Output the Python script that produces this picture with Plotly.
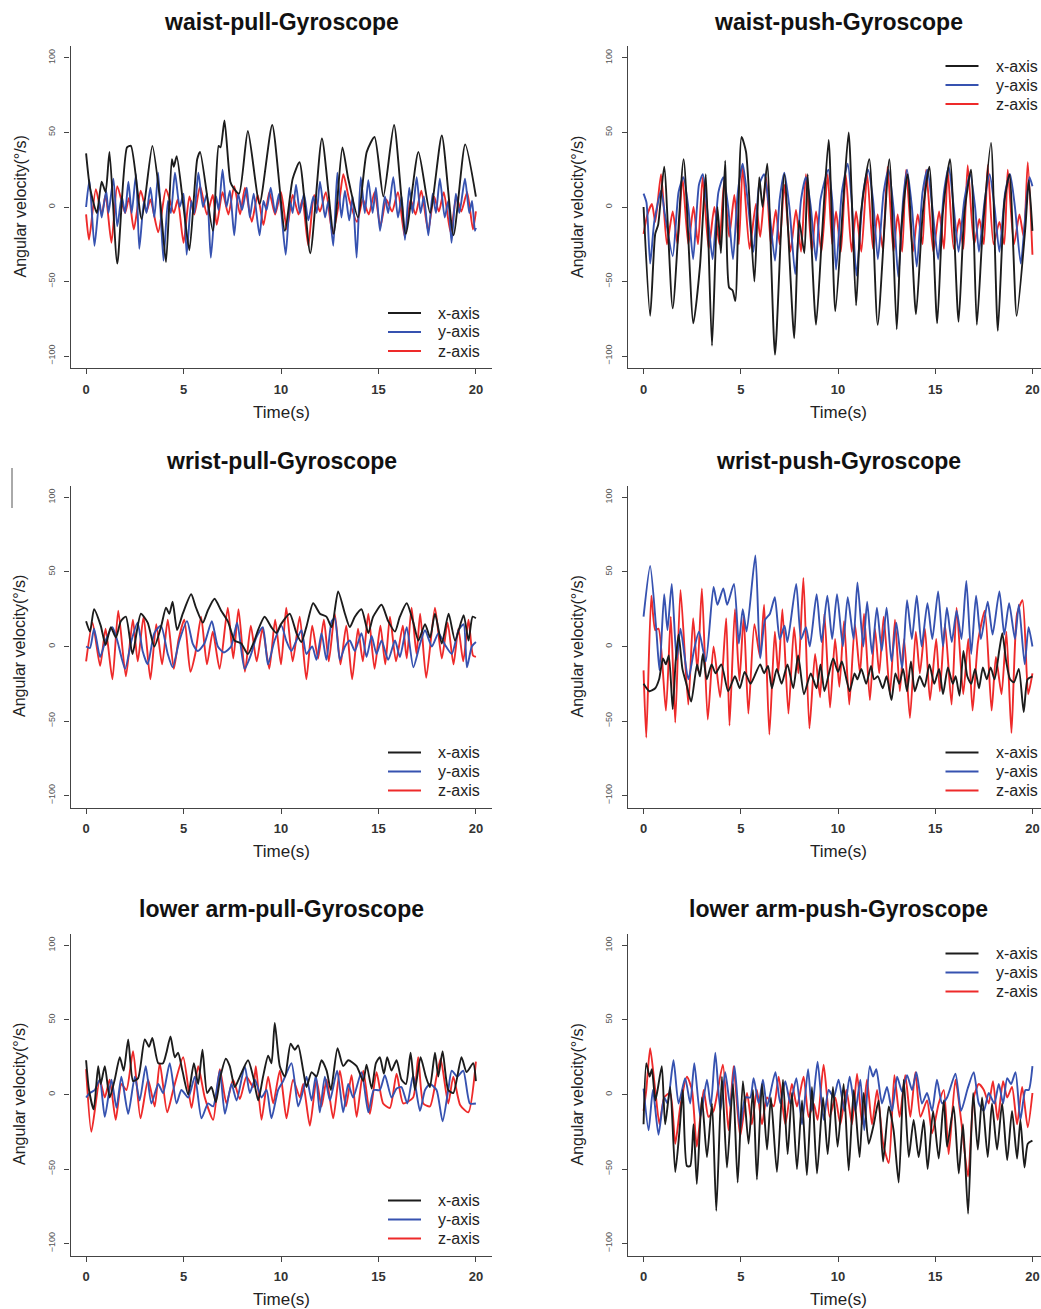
import plotly.graph_objects as go

W, H = 1041, 1309
FONT = "Liberation Sans, Arial, sans-serif"

# ---------------- titles / labels ----------------
PANEL_TITLES = ["waist-pull-Gyroscope", "waist-push-Gyroscope",
                "wrist-pull-Gyroscope", "wrist-push-Gyroscope",
                "lower arm-pull-Gyroscope", "lower arm-push-Gyroscope"]
SERIES_NAMES = ["x-axis", "y-axis", "z-axis"]
SERIES_COLORS = ["#1c1c1c", "#3652b0", "#ee2a2a"]
X_LABEL = "Time(s)"
Y_LABEL = "Angular velocity(°/s)"
X_TICKS = [0, 5, 10, 15, 20]
Y_TICKS = [-100, -50, 0, 50, 100]
LEGEND_POS = ["bottom", "top", "bottom", "bottom", "bottom", "top"]

# ---------------- data (time in s, angular velocity in deg/s) ----------------
# waist-pull
wpl_x_t = [0, 0.2, 0.55, 0.8, 1.0, 1.2, 1.6, 2.1, 2.3, 2.85, 3.4, 3.8, 4.1, 4.4, 4.5, 4.65, 5.0, 5.3, 5.7, 5.85,
           6.5, 6.8, 6.9, 7.1, 7.4, 7.55, 7.85, 8.3, 8.9, 9.55, 10.2, 10.6, 10.95, 11.5, 12.1, 12.7, 13.15, 13.45, 13.95, 14.4,
           14.8, 15.25, 15.8, 16.4, 17.05, 17.65, 18.25, 18.85, 19.45, 20.0]
wpl_x_v = [36, 13, -4, 17, 10, 37, -38, 40, 41, -8, 41, 4, -37, 32, 27, 34, 0, -29, 32, 37,
           -16, 41, 40, 58, 17, 13, 9, 51, 2, 55, -16, 19, 30, -31, 46, -18, 40, 19, -7, 37,
           47, 7, 55, -18, 37, -4, 48, -19, 42, 7]
wpl_y_t = [0, 0.17, 0.43, 0.68, 0.8, 1.03, 1.15, 1.4, 1.6, 1.83,
           2.0, 2.17, 2.34, 2.56, 2.73, 2.97, 3.1, 3.3, 3.5, 3.7,
           3.97, 4.2, 4.35, 4.56, 4.8, 5.0, 5.16, 5.4, 5.55, 5.76,
           6.0, 6.2, 6.4, 6.67, 6.8, 7.0, 7.2, 7.38, 7.6, 7.8,
           8.0, 8.24, 8.4, 8.6, 8.9, 9.1, 9.26, 9.47, 9.7, 9.9,
           10.24, 10.46, 10.6, 10.77, 10.97, 11.18, 11.4, 11.66, 11.83, 12.0,
           12.26, 12.43, 12.68, 12.89, 13.1, 13.28, 13.5, 13.68, 13.88, 14.09,
           14.3, 14.48, 14.7, 14.87, 15.08, 15.33, 15.5, 15.76, 16.0, 16.19,
           16.36, 16.58, 16.75, 16.96, 17.16, 17.33, 17.56, 17.78, 17.95, 18.15,
           18.4, 18.58, 18.75, 18.97, 19.15, 19.44, 19.66, 19.8, 19.95, 20.0]
wpl_y_v = [0, 18, -26, 4, -7, 11, -4, 19, -13, 7,
           -4, 17, -4, 22, -28, 4, -4, 13, -7, 23,
           -36, 4, -4, 23, 0, 9, -32, 4, -4, 23,
           0, 9, -34, 7, -2, 25, 0, 11, -19, 9,
           -2, 13, -7, 9, -19, 4, -2, 13, -4, 9,
           -32, 4, -4, 15, -4, 9, -9, 7, -4, 17,
           -7, 4, -26, 23, -7, 11, -9, 7, -34, 20,
           -4, 18, -4, 13, -16, 7, -4, 20, -7, 7,
           -22, 13, -4, 20, -4, 7, -19, 9, -4, 19,
           -7, 4, -24, 9, -4, 19, -4, 4, -16, -14]
wpl_z_t = [0, 0.15, 0.5, 0.8, 1.0, 1.3, 1.6, 2.0, 2.2, 2.45,
           2.8, 3.1, 3.3, 3.7, 4.1, 4.5, 4.7, 5.0, 5.3, 5.55,
           5.85, 6.2, 6.5, 6.7, 7.0, 7.3, 7.6, 7.9, 8.15, 8.5,
           8.8, 9.1, 9.4, 9.7, 10.0, 10.3, 10.6, 10.9, 11.1, 11.4,
           11.7, 12.0, 12.3, 12.65, 13.0, 13.2, 13.5, 13.9, 14.2, 14.5,
           14.8, 15.1, 15.4, 15.7, 16.0, 16.35, 16.65, 16.9, 17.2, 17.55,
           17.85, 18.1, 18.35, 18.7, 19.0, 19.25, 19.55, 19.85, 20.0]
wpl_z_v = [-5, -22, 12, -5, 8, -24, 14, -4, 6, -15,
           11, -3, 5, -17, 12, -4, 5, -24, 7, -5,
           14, -5, 8, -12, 10, -5, 14, -5, 13, -10,
           8, -12, 10, -5, 10, -15, 8, -5, 5, -26,
           8, -3, 10, -18, 5, 22, 5, -10, 5, -5,
           10, -13, 5, -3, 10, -20, 5, -5, 11, -16,
           7, -3, 10, -17, 7, -3, 10, -15, -3]

# waist-push
wps_x_t = [0, 0.34, 0.6, 0.75, 1.06, 1.5, 2.06, 2.56, 2.9, 3.2,
           3.52, 3.8, 3.98, 4.2, 4.4, 4.58, 4.72, 5.04, 5.27, 5.7,
           5.95, 6.12, 6.36, 6.76, 7.24, 7.75, 8.0, 8.27, 8.44, 8.87,
           9.18, 9.52, 9.86, 10.27, 10.55, 10.93, 11.18, 11.61, 12.04, 12.64,
           13.02, 13.24, 13.58, 14.01, 14.36, 14.7, 15.1, 15.39, 15.76, 16.2,
           16.5, 16.84, 17.14, 17.44, 17.87, 18.22, 18.56, 18.82, 19.19, 19.64,
           19.81, 20.0]
wps_x_v = [0, -73, -18, -12, 27, -68, 32, -78, -40, 22,
           -93, 0, -31, 31, -54, -56, -63, 47, 37, -50,
           20, 0, 29, -99, 22, -88, -9, -31, 22, -79,
           -18, 45, -70, 4, 50, -66, -4, 32, -79, 32,
           -82, -18, 22, -72, -4, 27, -78, -4, 32, -77,
           -4, 25, -79, -16, 43, -83, 4, 22, -73, -13,
           18, -16]
wps_y_t = [0, 0.15, 0.34, 0.55, 0.9, 1.1, 1.5, 1.8, 2.05, 2.3,
           2.55, 2.85, 3.05, 3.3, 3.55, 3.85, 4.1, 4.35, 4.6, 4.85,
           5.1, 5.35, 5.65, 5.95, 6.2, 6.45, 6.76, 7.0, 7.24, 7.5,
           7.8, 8.1, 8.35, 8.6, 8.87, 9.1, 9.5, 9.7, 9.9, 10.2,
           10.5, 10.7, 10.95, 11.3, 11.55, 11.8, 12.05, 12.35, 12.6, 12.85,
           13.1, 13.35, 13.55, 13.8, 14.05, 14.35, 14.6, 14.85, 15.15, 15.45,
           15.7, 15.95, 16.2, 16.5, 16.8, 17.05, 17.25, 17.55, 17.8, 18.05,
           18.3, 18.6, 18.85, 19.1, 19.4, 19.7, 19.85, 20.0]
wps_y_v = [9, 3, -38, -10, 11, -5, -33, 10, 20, 0,
           -35, 15, 22, -5, -35, 10, 20, 0, -35, 10,
           29, 5, -30, 15, 22, 0, -36, 5, 23, 0,
           -45, 5, 20, 0, -36, 5, 25, 5, -42, 10,
           29, 5, -46, 10, 25, 5, -35, 10, 25, 0,
           -47, 5, 25, 0, -40, 10, 25, 0, -35, 10,
           27, 0, -30, 5, 22, 0, -30, 5, 22, 0,
           -30, 10, 22, 0, -38, 5, 20, 14]
wps_z_t = [0, 0.2, 0.43, 0.6, 0.9, 1.2, 1.5, 1.75, 2.0, 2.3,
           2.57, 2.8, 3.04, 3.35, 3.64, 3.9, 4.15, 4.4, 4.67, 4.9,
           5.1, 5.45, 5.78, 6.0, 6.3, 6.55, 6.8, 7.0, 7.24, 7.55,
           7.84, 8.1, 8.35, 8.65, 8.87, 9.15, 9.47, 9.7, 9.9, 10.15,
           10.4, 10.7, 10.93, 11.2, 11.5, 11.8, 12.04, 12.3, 12.55, 12.85,
           13.07, 13.3, 13.5, 13.85, 14.1, 14.35, 14.53, 14.9, 15.2, 15.45,
           15.64, 15.95, 16.24, 16.45, 16.67, 17.0, 17.27, 17.5, 17.7, 18.0,
           18.3, 18.55, 18.73, 19.05, 19.33, 19.55, 19.76, 20.0]
wps_z_v = [-18, -5, 2, -10, 22, -25, -3, -25, 20, -25,
           0, -25, 20, -28, 0, -25, 18, -20, 8, -25,
           27, -28, 2, -20, 20, -25, -2, -25, 15, -30,
           -2, -30, 22, -30, -3, -30, 22, -25, -3, -30,
           22, -30, -3, -30, 22, -28, -5, -28, 27, -30,
           -5, -30, 25, -30, -5, -25, 25, -30, -3, -28,
           25, -28, -8, -28, 28, -25, -8, -25, 28, -25,
           -10, -25, 25, -25, -5, -20, 30, -32]

# wrist-pull
wrl_x_t = [0, 0.2, 0.41, 0.75, 1.0, 1.27, 1.53, 1.78, 2.04, 2.38,
           2.81, 3.16, 3.5, 3.84, 4.1, 4.27, 4.44, 4.67, 4.96, 5.39,
           5.64, 5.99, 6.24, 6.59, 6.93, 7.27, 7.62, 7.96, 8.3, 8.64,
           8.82, 9.16, 9.5, 9.76, 10.0, 10.45, 10.79, 11.05, 11.3, 11.65,
           12.0, 12.33, 12.6, 12.93, 13.28, 13.53, 13.79, 14.13, 14.48, 14.73,
           15.16, 15.5, 15.85, 16.1, 16.45, 16.79, 17.05, 17.39, 17.65, 17.9,
           18.25, 18.6, 18.93, 19.37, 19.62, 19.83, 20.0]
wrl_x_v = [17, 10, 25, 14, 1, 13, 6, 17, 20, -5,
           22, 16, 0, 13, 26, 22, 30, 11, 22, 35,
           26, 16, 24, 32, 24, 17, 4, 2, -5, 4,
           11, 20, 13, 9, 15, 22, 9, 3, 13, 29,
           22, 20, 13, 37, 22, 13, 20, 25, 9, 20,
           28, 17, 10, 20, 29, 16, 4, 15, 6, 22,
           2, 22, 4, 21, 4, 20, 19]
wrl_y_t = [0, 0.2, 0.41, 0.72, 1.0, 1.35, 1.6, 2.0, 2.33, 2.64,
           2.9, 3.16, 3.5, 3.84, 4.19, 4.44, 4.79, 5.18, 5.47, 5.73,
           6.07, 6.45, 6.76, 7.07, 7.44, 7.75, 8.13, 8.47, 8.73, 9.07,
           9.33, 9.67, 10.02, 10.27, 10.53, 10.79, 11.05, 11.3, 11.6, 11.82,
           12.08, 12.33, 12.6, 12.76, 13.02, 13.28, 13.53, 13.79, 14.13, 14.39,
           14.65, 14.9, 15.16, 15.5, 15.85, 16.1, 16.45, 16.79, 17.14, 17.39,
           17.74, 18.08, 18.42, 18.76, 19.11, 19.37, 19.54, 19.79, 20.0]
wrl_y_v = [0, -1, 12, -7, 4, 13, 4, -15, 4, 16,
           -3, -12, 9, 14, -5, -14, 4, 17, 2, -3,
           2, 17, 0, -4, 0, 16, -15, -5, 6, 13,
           -12, 4, 14, 4, -3, 4, 11, -5, 0, -9,
           9, -9, 17, 19, -9, 0, 4, -3, 9, -7,
           7, -5, 4, -9, 4, -7, 13, -14, 2, 11,
           0, 9, 1, -5, 11, 15, -14, 0, 3]
wrl_z_t = [0, 0.33, 0.72, 1.0, 1.35, 1.65, 2.04, 2.4, 2.65, 2.95,
           3.3, 3.6, 3.9, 4.19, 4.5, 4.75, 5.04, 5.35, 5.6, 5.9,
           6.2, 6.5, 6.85, 7.27, 7.55, 7.82, 8.15, 8.45, 8.75, 9.05,
           9.4, 9.7, 10.0, 10.27, 10.6, 10.96, 11.3, 11.6, 11.9, 12.2,
           12.45, 12.76, 13.05, 13.35, 13.65, 13.95, 14.2, 14.48, 14.8, 15.1,
           15.35, 15.59, 15.9, 16.25, 16.45, 16.7, 16.95, 17.14, 17.45, 17.9,
           18.25, 18.55, 18.85, 19.1, 19.35, 19.62, 19.85, 20.0]
wrl_z_v = [-10, 16, -13, 12, -22, 24, -20, 18, -10, 20,
           -22, 15, -12, 18, -15, 5, 18, -17, -5, 20,
           -12, 10, -15, 26, -8, 25, -17, 14, -10, 12,
           -15, 18, -12, 26, -10, 20, -22, 14, -8, 18,
           -10, 22, -12, 14, -22, 12, -10, 22, -15, 14,
           -12, 20, -10, 14, -8, 26, -5, 22, -21, 26,
           -8, 16, -12, 12, -10, 18, -6, -7]

# wrist-push
wrs_x_t = [0, 0.3, 0.6, 0.8, 1.0, 1.15, 1.3, 1.5, 1.65, 1.8,
           2.0, 2.2, 2.45, 2.75, 2.9, 3.05, 3.25, 3.5, 3.7, 4.0,
           4.35, 4.7, 4.95, 5.2, 5.5, 5.7, 6.0, 6.2, 6.4, 6.6,
           6.85, 7.1, 7.4, 7.7, 7.95, 8.25, 8.6, 8.9, 9.1, 9.3,
           9.5, 9.75, 10.0, 10.2, 10.6, 10.85, 11.0, 11.2, 11.45, 11.7,
           11.85, 12.05, 12.3, 12.5, 12.75, 12.95, 13.15, 13.35, 13.55, 13.75,
           13.95, 14.2, 14.45, 14.7, 14.95, 15.2, 15.4, 15.65, 15.9, 16.05,
           16.25, 16.45, 16.65, 16.85, 17.05, 17.25, 17.45, 17.65, 17.85, 18.05,
           18.3, 18.45, 18.65, 18.85, 19.05, 19.3, 19.55, 19.75, 20.0]
wrs_x_v = [-25, -30, -28, -22, -8, -12, -6, -42, -10, 8,
           -15, -25, -37, -12, -20, -5, -22, -12, -18, -12,
           -30, -20, -28, -17, -25, -20, -12, -18, -13, -28,
           -15, -25, -12, -28, -6, -32, -18, -28, -12, -30,
           -20, -8, -17, -10, -30, -18, -22, -15, -25, -13,
           -22, -20, -28, -20, -36, -18, -25, -15, -30, -10,
           -30, -20, -27, -12, -25, -15, -32, -14, -25, -20,
           -33, -3, -20, -25, -15, -28, -14, -22, -14, -22,
           -2, 9, -10, -22, -24, -15, -44, -22, -20]
wrs_y_t = [0, 0.34, 0.65, 0.82, 1.06, 1.23, 1.45, 1.7, 1.9, 2.3,
           2.6, 2.85, 3.2, 3.6, 3.8, 4.1, 4.3, 4.65, 4.9, 5.1,
           5.3, 5.75, 6.0, 6.25, 6.5, 6.75, 7.0, 7.25, 7.4, 7.85,
           8.1, 8.35, 8.55, 8.9, 9.15, 9.45, 9.7, 9.95, 10.25, 10.5,
           10.8, 11.0, 11.3, 11.5, 11.75, 12.0, 12.25, 12.5, 12.75, 13.0,
           13.3, 13.55, 13.8, 14.05, 14.3, 14.6, 14.85, 15.15, 15.4, 15.6,
           15.85, 16.1, 16.35, 16.6, 16.85, 17.1, 17.35, 17.7, 17.95, 18.3,
           18.55, 18.8, 19.1, 19.3, 19.6, 19.8, 20.0]
wrs_y_v = [20, 54, 12, -16, 35, 11, 42, -9, 12, -22,
           -2, 10, -10, 40, 28, 39, 28, 42, 2, 25,
           10, 61, -8, 18, 22, 33, 5, 14, 3, 42,
           5, 13, 0, 35, 3, 34, 5, 35, 0, 33,
           5, 43, 0, 30, -5, 26, -3, 26, -10, 16,
           -15, 31, 5, 34, 0, 29, 5, 37, 0, 26,
           3, 24, 5, 44, -5, 34, 5, 30, 8, 37,
           8, 29, 5, 28, -12, 13, 0]
wrs_z_t = [0, 0.14, 0.4, 0.6, 0.77, 1.15, 1.4, 1.63, 1.9, 2.3,
           2.55, 2.77, 3.0, 3.3, 3.6, 3.94, 4.25, 4.42, 4.7, 4.93,
           5.15, 5.39, 5.7, 5.99, 6.2, 6.47, 6.75, 6.93, 7.14, 7.45,
           7.74, 7.96, 8.22, 8.53, 8.82, 9.08, 9.3, 9.59, 9.85, 10.07,
           10.31, 10.58, 10.87, 11.13, 11.34, 11.64, 11.9, 12.12, 12.35, 12.67,
           12.93, 13.18, 13.4, 13.7, 14.0, 14.21, 14.47, 14.73, 15.05, 15.24,
           15.5, 15.84, 16.1, 16.44, 16.7, 16.92, 17.2, 17.55, 17.9, 18.12,
           18.41, 18.66, 18.92, 19.21, 19.49, 19.78, 20.0]
wrs_z_v = [-16, -61, 34, 11, 12, -43, 20, -51, 38, -39,
           19, -16, 39, -49, 0, -34, 19, -53, 25, -23,
           20, -45, 15, -7, 28, -59, 10, -18, 25, -45,
           13, -18, 46, -55, -5, -34, 22, -41, 5, -27,
           17, -39, 15, -18, 22, -36, 12, -18, 20, -32,
           18, -30, 5, -48, 10, -18, 12, -36, 5, -30,
           15, -39, 26, -32, 5, -43, 3, 24, -43, -7,
           -32, 10, -58, 22, 31, -32, -18]

# lower arm-pull
lal_x_t = [0, 0.15, 0.39, 0.62, 0.75, 0.96, 1.21, 1.47, 1.73, 1.93,
           2.16, 2.41, 2.67, 3.01, 3.23, 3.4, 3.7, 3.95, 4.12, 4.33,
           4.55, 4.72, 4.94, 5.24, 5.53, 5.75, 5.97, 6.21, 6.43, 6.66,
           6.89, 7.17, 7.37, 7.63, 7.89, 8.31, 8.57, 8.83, 9.08, 9.34,
           9.51, 9.68, 9.94, 10.2, 10.49, 10.71, 10.88, 11.14, 11.31, 11.57,
           11.82, 12.08, 12.34, 12.56, 12.9, 13.19, 13.45, 13.88, 14.22, 14.39,
           14.65, 14.87, 15.07, 15.28, 15.45, 15.67, 15.93, 16.18, 16.41, 16.65,
           16.87, 17.16, 17.43, 17.64, 17.9, 18.07, 18.29, 18.58, 18.84, 19.26,
           19.52, 19.86, 20.0]
lal_x_v = [23, 3, -10, 19, 7, 19, -2, 10, 25, 16,
           37, 9, 11, 37, 32, 38, 21, 21, 28, 39,
           25, 28, 16, 0, 21, 7, 30, 1, 5, -5,
           12, 24, 19, 5, 12, 23, 12, -4, 12, 26,
           21, 48, 19, 12, 34, 30, 33, 16, 5, 15,
           12, 23, 16, 3, 31, 19, 23, 19, 9, 20,
           4, 21, 25, 14, 25, 16, 23, 10, 7, 28,
           3, 25, 12, 5, 28, 12, 29, 3, 1, 25,
           15, 21, 9]
lal_y_t = [0, 0.19, 0.44, 0.7, 0.96, 1.3, 1.56, 1.81, 2.16, 2.5,
           2.75, 3.06, 3.35, 3.7, 3.95, 4.29, 4.64, 4.89, 5.24, 5.58,
           5.92, 6.26, 6.52, 6.86, 7.12, 7.46, 7.72, 8.14, 8.4, 8.66,
           9.0, 9.26, 9.51, 9.85, 10.11, 10.54, 10.88, 11.14, 11.31, 11.57,
           11.79, 11.99, 12.25, 12.51, 12.88, 13.19, 13.45, 13.7, 14.13, 14.48,
           14.76, 15.07, 15.33, 15.67, 15.93, 16.18, 16.48, 16.78, 17.13, 17.39,
           17.64, 17.98, 18.29, 18.58, 18.76, 19.04, 19.35, 19.69, 20.0]
lal_y_v = [-2, 1, 3, 10, -15, 10, -9, 12, -13, 12,
           -4, 19, -6, 7, 1, 21, -6, 3, -2, 12,
           -16, -6, -8, 16, -13, 7, -4, 19, 1, 10,
           -2, 3, -16, 3, 9, 21, -8, 3, 12, -4,
           13, -12, 12, -4, 16, -12, 7, -2, 15, -12,
           3, 3, 13, -2, 4, 5, -6, 13, -11, 3,
           7, 3, -18, 3, 16, 12, 16, -6, -6]
lal_z_t = [0, 0.27, 0.7, 0.96, 1.21, 1.52, 1.81, 2.07, 2.41, 2.79,
           3.18, 3.52, 3.78, 4.16, 4.47, 4.98, 5.41, 5.75, 6.09, 6.52,
           6.86, 7.2, 7.54, 7.89, 8.23, 8.57, 8.71, 9.0, 9.34, 9.6,
           9.94, 10.28, 10.62, 10.97, 11.14, 11.48, 11.82, 12.08, 12.34, 12.68,
           13.02, 13.33, 13.62, 13.88, 14.22, 14.56, 14.9, 15.24, 15.59, 15.93,
           16.27, 16.78, 17.04, 17.3, 17.64, 17.98, 18.19, 18.58, 18.84, 19.19,
           19.61, 20.0]
lal_z_v = [17, -25, 10, -2, 10, -17, 7, 3, 29, -16,
           10, -8, 21, -12, 3, 25, -9, 19, -2, -17,
           17, -6, 10, -3, 12, 5, 19, -17, 12, -6,
           16, -16, 10, -2, 7, -21, 10, -8, 10, -16,
           16, -8, 13, -15, 16, -13, 15, -6, -9, 14,
           -6, -2, 25, -6, -8, 12, 24, -6, 12, -7,
           -12, 22]

# lower arm-push
las_x_t = [0, 0.14, 0.31, 0.43, 0.6, 0.72, 0.94, 1.11, 1.37, 1.63,
           1.85, 2.02, 2.23, 2.4, 2.57, 2.74, 3.0, 3.26, 3.52, 3.74,
           4.03, 4.29, 4.6, 4.84, 5.11, 5.4, 5.63, 5.83, 6.09, 6.35,
           6.55, 6.86, 7.17, 7.41, 7.63, 7.89, 8.15, 8.4, 8.66, 8.92,
           9.23, 9.47, 9.74, 9.98, 10.29, 10.55, 10.81, 11.11, 11.32, 11.58,
           11.84, 12.09, 12.32, 12.61, 12.86, 13.12, 13.38, 13.64, 13.89, 14.15,
           14.41, 14.61, 14.89, 15.18, 15.44, 15.61, 15.95, 16.21, 16.43, 16.69,
           16.95, 17.19, 17.41, 17.7, 17.92, 18.18, 18.44, 18.7, 18.95, 19.21,
           19.38, 19.59, 19.76, 20.0]
las_x_v = [-20, 21, 12, 17, -4, 3, 19, -20, 5, -52,
           -24, 3, -48, -48, -20, -60, -2, -42, -6, -78,
           12, -49, 7, -59, 9, -33, 3, -57, 7, -37,
           -2, -52, 10, -40, 1, -50, -4, -54, 5, -53,
           -2, -40, 5, -35, 7, -51, 3, -42, 1, -33,
           -20, -4, -45, -8, -24, -59, 10, -42, -17, -42,
           -17, -50, -11, -43, -4, -35, -8, -53, -20, -80,
           1, -37, -2, -42, -6, -37, -6, -44, -11, -43,
           -17, -49, -33, -31]
las_y_t = [0, 0.26, 0.48, 0.77, 1.06, 1.23, 1.54, 1.8, 2.14, 2.4,
           2.61, 2.92, 3.26, 3.46, 3.69, 3.95, 4.2, 4.46, 4.68, 4.97,
           5.23, 5.49, 5.66, 5.92, 6.14, 6.35, 6.78, 7.03, 7.29, 7.55,
           7.86, 8.15, 8.46, 8.66, 8.95, 9.26, 9.52, 9.78, 10.03, 10.33,
           10.6, 10.89, 11.15, 11.35, 11.63, 11.8, 11.97, 12.26, 12.52, 12.78,
           13.04, 13.29, 13.55, 13.81, 14.03, 14.32, 14.58, 14.84, 15.09, 15.35,
           15.61, 16.04, 16.33, 16.67, 16.98, 17.24, 17.5, 17.75, 18.04, 18.27,
           18.49, 18.7, 18.9, 19.13, 19.38, 19.64, 19.81, 20.0]
las_y_v = [4, -24, 3, -27, -2, -6, 23, -6, 11, -6,
           21, -15, 10, -8, 28, -11, 15, -8, 19, -23,
           -2, -2, 11, -6, 10, -8, 15, -6, 9, -6,
           11, -20, 17, -11, 22, -17, 3, -2, 10, -11,
           12, -11, 10, -24, 19, 12, 17, -6, 5, -11,
           12, 2, 13, 3, 15, -6, 1, -11, 10, -6,
           -2, 14, -11, 4, 15, -6, -11, 1, -6, 7,
           -6, 11, 7, 15, -17, 3, 3, 19]
las_z_t = [0, 0.14, 0.34, 0.6, 0.82, 1.06, 1.37, 1.63, 1.89, 2.23,
           2.49, 2.74, 3.09, 3.34, 3.6, 4.08, 4.37, 4.63, 4.97, 5.32,
           5.57, 5.83, 6.09, 6.35, 6.69, 6.95, 7.29, 7.63, 7.89, 8.23,
           8.49, 8.75, 8.95, 9.26, 9.57, 9.86, 10.12, 10.43, 10.72, 10.98,
           11.24, 11.49, 11.75, 12.01, 12.32, 12.61, 12.9, 13.17, 13.46, 13.72,
           13.98, 14.24, 14.58, 14.84, 15.18, 15.44, 15.69, 16.04, 16.33, 16.69,
           16.98, 17.24, 17.5, 17.75, 17.97, 18.21, 18.49, 18.7, 18.95, 19.21,
           19.47, 19.76, 20.0]
las_z_v = [-11, 3, 31, 3, -20, -2, 1, -33, -8, 12,
           3, -35, 3, -15, -11, 20, -24, 19, -28, 1,
           -20, 3, -20, -2, -8, 12, -20, 7, -8, 12,
           -15, -6, -17, 20, -15, -2, -20, 3, -20, 14,
           -20, 10, -20, 3, -33, -46, 13, -15, 13, -15,
           15, -15, -4, -26, -6, 3, -40, 10, -17, -55,
           -2, 7, 3, -6, 9, -17, 9, -2, 5, -20,
           5, -22, 1]

PANEL_DATA = [
    [(wpl_x_t, wpl_x_v), (wpl_y_t, wpl_y_v), (wpl_z_t, wpl_z_v)],
    [(wps_x_t, wps_x_v), (wps_y_t, wps_y_v), (wps_z_t, wps_z_v)],
    [(wrl_x_t, wrl_x_v), (wrl_y_t, wrl_y_v), (wrl_z_t, wrl_z_v)],
    [(wrs_x_t, wrs_x_v), (wrs_y_t, wrs_y_v), (wrs_z_t, wrs_z_v)],
    [(lal_x_t, lal_x_v), (lal_y_t, lal_y_v), (lal_z_t, lal_z_v)],
    [(las_x_t, las_x_v), (las_y_t, las_y_v), (las_z_t, las_z_v)],
]

# ---------------- layout geometry (pixels) ----------------
COLS = [(70.5, 491.5), (628.0, 1048.0)]          # nominal plot-area x extents
ROWS = [(46.0, 368.0), (485.5, 807.5), (933.5, 1255.5)]
XR = (-0.8, 20.8)
YR = (-108, 108)


def px(x):
    return x / W


def py(y):
    return 1 - y / H


fig = go.Figure()
annotations = []
shapes = []
layout = {}

for i in range(6):
    r, c = divmod(i, 2)
    x0, x1 = COLS[c]
    y0, y1 = ROWS[r]
    xr = list(XR)
    if x1 > W:  # right column is clipped by the picture edge
        xr[1] = XR[0] + (XR[1] - XR[0]) * (W - x0) / (x1 - x0)
        x1c = W
    else:
        x1c = x1
    sfx = "" if i == 0 else str(i + 1)
    layout["xaxis" + sfx] = dict(
        domain=[px(x0), px(x1c)], range=xr, anchor="y" + sfx,
        tickmode="array", tickvals=X_TICKS, ticks="outside", ticklen=5, tickwidth=1.2,
        tickcolor="#444", showline=True, linecolor="#444", linewidth=1.4,
        showgrid=False, zeroline=False, ticklabelstandoff=4,
        tickfont=dict(family=FONT, size=13, color="#333", weight="bold"),
    )
    layout["yaxis" + sfx] = dict(
        domain=[py(y1), py(y0)], range=list(YR), anchor="x" + sfx,
        tickmode="array", tickvals=Y_TICKS, ticks="outside", ticklen=5, tickwidth=1.2,
        tickcolor="#444", showline=True, linecolor="#444", linewidth=1.4,
        showgrid=False, zeroline=False, tickangle=-90, ticklabelstandoff=6,
        tickfont=dict(family=FONT, size=9, color="#555"),
    )
    # traces: z first, then y, then x on top
    for k in (2, 1, 0):
        t, v = PANEL_DATA[i][k]
        fig.add_trace(go.Scatter(
            x=t, y=v, mode="lines", name=SERIES_NAMES[k], showlegend=False,
            line=dict(color=SERIES_COLORS[k], width=1.9, shape="spline", smoothing=0.6),
            xaxis="x" + sfx, yaxis="y" + sfx,
        ))
    cx = (x0 + x1) / 2
    annotations.append(dict(text="<b>" + PANEL_TITLES[i] + "</b>", x=px(cx), y=py(y0 - 24),
                            xref="paper", yref="paper", xanchor="center", yanchor="middle",
                            showarrow=False, font=dict(family=FONT, size=23, color="#111")))
    annotations.append(dict(text=X_LABEL, x=px(cx), y=py(y1 + 44), xref="paper", yref="paper",
                            xanchor="center", yanchor="middle",
                            showarrow=False, font=dict(family=FONT, size=17, color="#222")))
    annotations.append(dict(text=Y_LABEL, x=px(x0 - 51), y=py((y0 + y1) / 2), xref="paper",
                            yref="paper", xanchor="center", yanchor="middle",
                            showarrow=False, textangle=-90,
                            font=dict(family=FONT, size=16, color="#222")))
    # legend (R style, no box)
    if LEGEND_POS[i] == "bottom":
        rows_y = [y1 - 55, y1 - 36, y1 - 17]
    else:
        rows_y = [y0 + 20, y0 + 39, y0 + 58]
    for k in range(3):
        shapes.append(dict(type="line", xref="paper", yref="paper",
                           x0=px(x0 + 317.5), x1=px(x0 + 350.5), y0=py(rows_y[k]), y1=py(rows_y[k]),
                           line=dict(color=SERIES_COLORS[k], width=2)))
        annotations.append(dict(text=SERIES_NAMES[k], x=px(x0 + 366), y=py(rows_y[k]),
                                xref="paper", yref="paper", xanchor="left", yanchor="middle",
                                showarrow=False, font=dict(family=FONT, size=16, color="#222")))

# stray mark at left margin of the original figure
shapes.append(dict(type="line", xref="paper", yref="paper", x0=px(12), x1=px(12),
                   y0=py(468), y1=py(508), line=dict(color="#555", width=1)))

fig.update_layout(
    width=W, height=H, margin=dict(l=0, r=0, t=0, b=0, pad=0),
    paper_bgcolor="white", plot_bgcolor="white", showlegend=False,
    annotations=annotations, shapes=shapes, **layout,
)

fig.write_html("out.html", config={"displayModeBar": False},
               post_script="document.body.style.margin='0';document.body.style.overflow='hidden';")
